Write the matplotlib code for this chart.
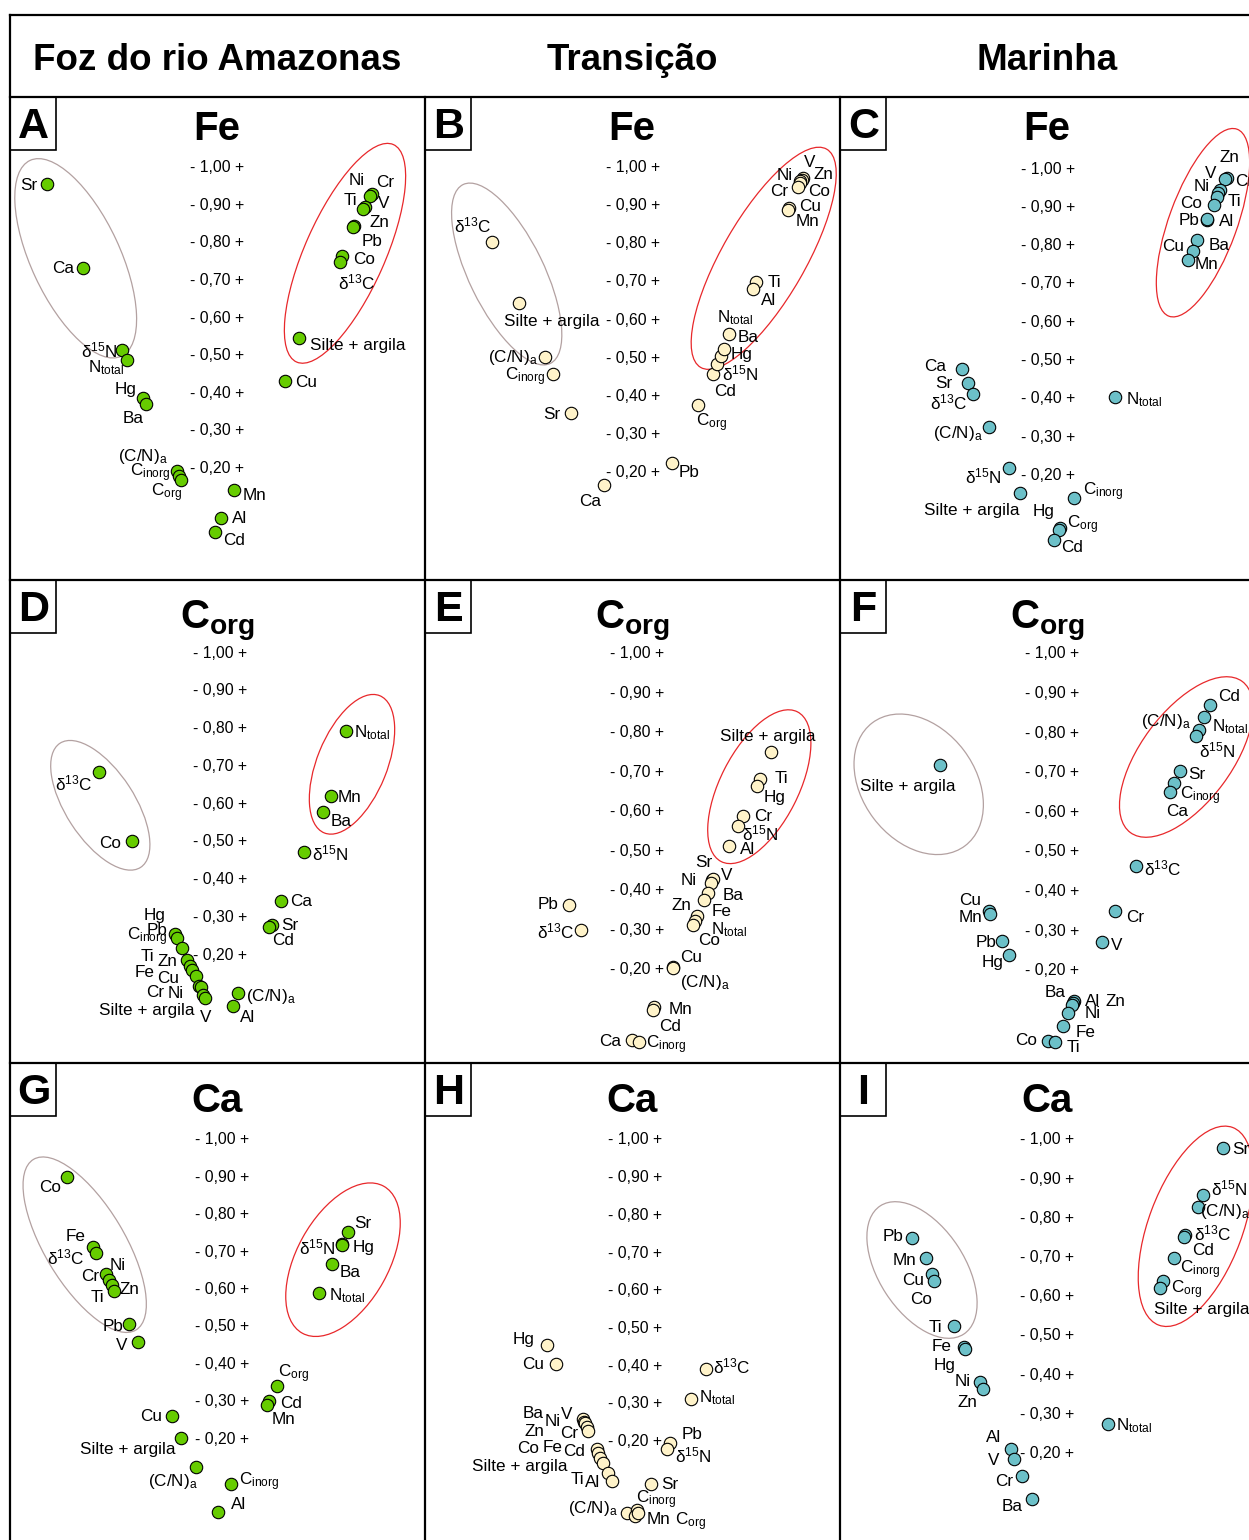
import matplotlib
matplotlib.use("Agg")
import matplotlib.pyplot as plt
from matplotlib.patches import Ellipse, Rectangle

plt.rcParams["font.family"] = ["Liberation Sans", "DejaVu Sans"]
plt.rcParams["mathtext.fontset"] = "custom"
plt.rcParams["mathtext.rm"] = "Liberation Sans"
plt.rcParams["mathtext.it"] = "Liberation Sans:italic"
plt.rcParams["mathtext.bf"] = "Liberation Sans:bold"

FIG_W, FIG_H = 1249, 1540

COLUMN_TITLES = ["Foz do rio Amazonas", "Transição", "Marinha"]
PANEL_LETTERS = ["A", "B", "C", "D", "E", "F", "G", "H", "I"]
PANEL_VARS = ["Fe", "Corg", "Ca"]
TICKS = [1.00, 0.90, 0.80, 0.70, 0.60, 0.50, 0.40, 0.30, 0.20]

# ---- data: variable names, horizontal position, correlation ----
A_NAMES = ["Sr", "Ca", "d15N", "Ntotal", "Hg", "Ba", "CN", "Cinorg", "Corg", "Mn", "Al", "Cd",
           "Cu", "Silte", "Cr", "Ni", "V", "Ti", "Zn", "Pb", "Co", "d13C"]
A_X = [36.7, 72.7, 111.7, 117.3, 133.3, 136, 167.3, 169.3, 170.7, 224.3, 211.3, 205,
       275, 288.7, 361.7, 360.3, 354.7, 353.3, 344, 343.3, 332.3, 330]
A_R = [0.956, 0.734, 0.515, 0.488, 0.388, 0.370, 0.193, 0.180, 0.169, 0.142, 0.067, 0.031,
       0.432, 0.546, 0.929, 0.925, 0.895, 0.890, 0.845, 0.841, 0.765, 0.750]

B_NAMES = ["d13C", "Silte", "CN", "Cinorg", "Sr", "Ca", "Pb", "Corg", "Cd", "d15N", "Hg", "Ba",
           "Ntotal", "Ti", "Al", "Cu", "Mn", "V", "Zn", "Ni", "Co", "Cr"]
B_X = [66.7, 94.3, 120, 127.7, 145.7, 178.7, 247, 273.3, 288.3, 292.3, 296, 299,
       304, 330.7, 327.7, 364, 362.7, 378.3, 376.7, 375, 375, 373.3]
B_R = [0.804, 0.646, 0.502, 0.458, 0.355, 0.168, 0.225, 0.377, 0.458, 0.485, 0.505, 0.523,
       0.564, 0.701, 0.681, 0.895, 0.889, 0.974, 0.968, 0.965, 0.959, 0.949]

C_NAMES = ["Ca", "Sr", "d13C", "CN", "d15N", "Silte", "Cinorg", "Hg", "Corg", "Cd", "Ntotal",
           "Zn", "Cr", "V", "Ni", "Ti", "Co", "Pb", "Al", "Ba", "Cu", "Mn"]
C_X = [121.7, 127.7, 133.3, 149, 169, 180, 234.3, 220, 219.3, 214.3, 275,
       386.7, 385.3, 380, 378.3, 376.7, 374, 366.7, 367.3, 357.3, 352.7, 348.3]
C_R = [0.478, 0.442, 0.413, 0.328, 0.219, 0.156, 0.141, 0.064, 0.058, 0.032, 0.406,
       0.977, 0.974, 0.945, 0.937, 0.928, 0.906, 0.867, 0.870, 0.814, 0.785, 0.763]

D_NAMES = ["d13C", "Co", "Ntotal", "Mn", "Ba", "d15N", "Ca", "Sr", "Cd", "CN", "Al", "Hg",
           "Pb", "Cinorg", "Ti", "Zn", "Fe", "Cu", "Cr", "Ni", "Silte", "V"]
D_X = [89, 121.7, 335.7, 320.7, 313.3, 294, 271, 261.7, 259, 227.7, 222.7, 164.7,
       166.7, 171.7, 177.3, 180, 181.7, 185.7, 189.3, 190.7, 193.3, 195.3]
D_R = [0.684, 0.502, 0.793, 0.621, 0.578, 0.473, 0.343, 0.281, 0.274, 0.100, 0.066, 0.256,
       0.245, 0.219, 0.188, 0.172, 0.162, 0.144, 0.120, 0.115, 0.096, 0.087]

E_NAMES = ["Pb", "d13C", "Silte", "Ti", "Hg", "Cr", "d15N", "Al", "Sr", "V", "Ni", "Ba",
           "Zn", "Fe", "Ntotal", "Co", "Cu", "CN", "Mn", "Cd", "Ca", "Cinorg"]
E_X = [144.3, 156, 345.7, 335, 331.7, 318.3, 312.7, 304, 287.3, 288.3, 286, 282.7,
       279.3, 272.3, 270, 267.7, 248.3, 247.7, 229.3, 228.3, 206.7, 214.3]
E_R = [0.365, 0.301, 0.752, 0.682, 0.665, 0.590, 0.563, 0.514, 0.428, 0.430, 0.420, 0.394,
       0.377, 0.335, 0.324, 0.312, 0.206, 0.204, 0.105, 0.097, 0.023, 0.017]

F_NAMES = ["Silte", "Cd", "Ntotal", "CN", "d15N", "Sr", "Cinorg", "Ca", "d13C", "Cr", "V",
           "Cu", "Mn", "Pb", "Hg", "Ba", "Al", "Zn", "Ni", "Fe", "Co", "Ti"]
F_X = [100, 370, 364, 359.3, 356, 340, 334.3, 330, 296, 275, 261.7,
       149.3, 150, 162.3, 169, 234.3, 233.3, 232.3, 228.3, 222.7, 208.3, 215]
F_R = [0.719, 0.870, 0.840, 0.809, 0.792, 0.704, 0.674, 0.651, 0.464, 0.350, 0.272,
       0.350, 0.343, 0.276, 0.240, 0.124, 0.118, 0.114, 0.093, 0.059, 0.021, 0.019]

G_NAMES = ["Co", "Fe", "d13C", "Cr", "Ni", "Zn", "Ti", "Pb", "V", "Sr", "Hg", "d15N",
           "Ba", "Ntotal", "Corg", "Cd", "Mn", "Cu", "Silte", "CN", "Cinorg", "Al"]
G_X = [56.7, 82.7, 85.7, 95.7, 99, 101.7, 104, 119.3, 127.7, 337.7, 332.3, 331.7,
       321.7, 309, 266.7, 259, 256.7, 161.7, 171, 185.7, 220.7, 207.7]
G_R = [0.902, 0.713, 0.697, 0.641, 0.625, 0.612, 0.597, 0.507, 0.459, 0.753, 0.721, 0.719,
       0.668, 0.592, 0.343, 0.303, 0.291, 0.262, 0.204, 0.126, 0.081, 0.006]

H_NAMES = ["Hg", "Cu", "d13C", "Ntotal", "Pb", "d15N", "Sr", "V", "Ni", "Ba", "Zn", "Cr",
           "Cd", "Fe", "Co", "Silte", "Ti", "Al", "CN", "Cinorg", "Mn", "Corg"]
H_X = [122.3, 131, 281, 265.7, 245, 242.3, 225.7, 158.3, 159.3, 160.3, 161.7, 163.3,
       171.7, 173.3, 175, 177.7, 182.7, 187.3, 202.3, 212.3, 210, 213.3]
H_R = [0.456, 0.406, 0.394, 0.312, 0.196, 0.180, 0.088, 0.259, 0.253, 0.249, 0.240, 0.228,
       0.180, 0.170, 0.158, 0.143, 0.117, 0.095, 0.010, 0.019, 0.002, 0.012]

I_NAMES = ["Pb", "Mn", "Cu", "Co", "Ti", "Fe", "Hg", "Ni", "Zn", "Al", "V", "Cr", "Ba",
           "Ntotal", "Sr", "d15N", "CN", "d13C", "Cd", "Cinorg", "Corg", "Silte"]
I_X = [72.3, 85.7, 91.7, 94.3, 114.3, 124.3, 125, 140, 142.7, 170.7, 174.3, 181.7, 192.3,
       268.3, 383.3, 362.7, 357.7, 345, 344, 334, 323.3, 320]
I_R = [0.751, 0.698, 0.657, 0.641, 0.525, 0.471, 0.466, 0.383, 0.364, 0.210, 0.185, 0.143, 0.083,
       0.274, 0.979, 0.860, 0.830, 0.757, 0.753, 0.700, 0.641, 0.621]

# ---- layout: label offsets (px, right / down) per point ----
A_OFF = [(-18, 1), (-20, 1), (-23, 0), (-21, 8), (-18, -8), (-13, 14), (-34, -14), (-29, -3), (-14, 13),
         (20, 5), (18, 0), (19, 9), (21, 1), (59, 7), (13, -12), (-14, -15), (19, -4), (-13, -9),
         (25, -3), (19, 14), (22, 3), (17, 21)]
B_OFF = [(-19, -17), (32, 19), (-32, 0), (-27, 3), (-19, 1), (-14, 17), (17, 10), (13, 18), (12, 17),
         (23, 10), (21, -2), (24, -12), (6, -16), (19, 1), (16, 11), (21, -1), (20, 12), (6, -15),
         (22, -5), (-15, -6), (19, 8), (-19, 4)]
C_OFF = [(-27, -3), (-24, 1), (-25, 8), (-31, 7), (-26, 8), (-48, 18), (29, -7), (-16, -16), (23, -5),
         (18, 7), (29, 3), (3, -20), (19, 3), (-9, -17), (-17, -7), (18, 5), (-23, -2), (-18, 1),
         (19, 3), (22, 5), (-20, -5), (18, 5)]
D_OFF = [(-25, 11), (-22, 2), (26, 1), (19, 1), (18, 9), (26, 1), (20, 0), (18, 1), (14, 13), (33, 3),
         (15, 12), (-20, -19), (-20, -8), (-34, -11), (-40, -3), (-23, -4), (-47, 3), (-28, 2),
         (-44, 7), (-25, 6), (-57, 16), (0, 19)]
E_OFF = [(-21, 0), (-25, 2), (-3, -15), (21, -1), (18, 11), (20, 1), (22, 7), (19, 4), (-9, -17),
         (13, -3), (-22, -2), (25, 2), (-23, 6), (24, -5), (34, 9), (16, 15), (18, -10), (32, 14),
         (26, 2), (17, 16), (-22, 2), (27, 3)]
F_OFF = [(-32, 21), (19, -9), (26, 9), (-33, -8), (21, 14), (17, 3), (26, 13), (7, 19), (27, 2),
         (20, 6), (15, 3), (-19, -11), (-19, 3), (-16, 2), (-16, 8), (-19, -8), (19, -2), (43, -3),
         (24, 1), (23, 6), (-22, -1), (18, 5)]
G_OFF = [(-17, 11), (-17, -11), (-30, 4), (-16, 2), (9, -15), (18, 4), (-17, 7), (-16, 2), (-16, 3),
         (15, -9), (21, 3), (-25, 2), (18, 8), (28, 3), (17, -12), (22, 3), (17, 14), (-21, 1),
         (-53, 12), (-23, 15), (29, -2), (21, -7)]
H_OFF = [(-24, -6), (-23, 1), (26, -2), (26, -2), (22, -9), (26, 6), (19, 1), (-17, -5), (-32, 0),
         (-52, -10), (-52, 5), (-19, 2), (-23, 2), (-46, -5), (-72, -9), (-83, 3), (-30, 7),
         (-20, 1), (-34, -5), (19, -10), (23, 3), (52, 9)]
I_OFF = [(-19, -1), (-21, 2), (-19, 6), (-13, 19), (-19, 1), (-23, -1), (-20, 16), (-17, 0),
         (-15, 13), (-17, -12), (-21, 1), (-18, 6), (-20, 7), (26, 1), (17, 1), (26, -6), (27, 5),
         (28, -2), (19, 14), (26, 12), (23, 9), (42, 21)]

PANELS = [
    (A_NAMES, A_X, A_R, A_OFF), (B_NAMES, B_X, B_R, B_OFF), (C_NAMES, C_X, C_R, C_OFF),
    (D_NAMES, D_X, D_R, D_OFF), (E_NAMES, E_X, E_R, E_OFF), (F_NAMES, F_X, F_R, F_OFF),
    (G_NAMES, G_X, G_R, G_OFF), (H_NAMES, H_X, H_R, H_OFF), (I_NAMES, I_X, I_R, I_OFF),
]

DISPLAY = {
    "d13C": r"δ$^{13}$C",
    "d15N": r"δ$^{15}$N",
    "Ntotal": r"N$_{\mathrm{total}}$",
    "Cinorg": r"C$_{\mathrm{inorg}}$",
    "Corg": r"C$_{\mathrm{org}}$",
    "CN": r"(C/N)$_{\mathrm{a}}$",
    "Silte": "Silte + argila",
}

COL_X = [10, 425, 840]
ROW_Y = [95, 578, 1060]
COL_LINES = [10.5, 425.5, 840.5]
ROW_LINES = [96.5, 579.5, 1062.5]
TITLE_BASE = [43.5, 48.5, 49.5]
R1_PX = [167.7, 167.7, 169.0, 653.0, 654.0, 654.0, 1140.0, 1140.0, 1140.0]
PX_PER_UNIT = [375.8, 380.8, 383.3, 377.9, 394.6, 395.8, 373.8, 377.1, 391.7]
TICK_X = [207, 208, 208, 210, 212, 212, 212, 210, 207]
MARKER_COLORS = ["#66CC00", "#FFF3C9", "#6CC0C8"]
GREY = "#B3A1A1"
RED = "#E8282B"

# ellipses: cx, cy, width, height, angle (px, y downwards)
ELLIPSES = [
    (75.7, 258.3, 216, 89, 65, GREY), (345, 253.3, 238, 80, -66, RED),
    (506.7, 274, 199, 75, 64, GREY), (763.7, 258.3, 252, 83, -60, RED),
    (1203, 222.7, 199, 68, -70, RED),
    (100.3, 805.3, 148, 69, 57, GREY), (352, 764.3, 148, 70, -68, RED),
    (759.3, 786.7, 168, 78, -63, RED),
    (918.7, 784.3, 154, 113, 53, GREY), (1186.3, 757, 188, 91, -53.5, RED),
    (84.7, 1244.7, 199, 80, 59, GREY), (343, 1259.7, 168, 92, -61, RED),
    (922, 1270, 153, 86, 57, GREY), (1195.7, 1226.3, 211, 94, -69.5, RED),
]


def Main():
    fig = plt.figure(figsize=(FIG_W / 100, FIG_H / 100), dpi=100)
    ov = fig.add_axes([0, 0, 1, 1], zorder=1)
    ov.set_xlim(0, FIG_W)
    ov.set_ylim(FIG_H, 0)
    ov.axis("off")

    DrawFrame(ov)
    for e in ELLIPSES:
        cx, cy, w, h, ang, col = e
        ov.add_patch(Ellipse((cx, cy), w, h, angle=ang, fill=False, edgecolor=col, linewidth=0.9))

    for i, (names, xs, rs, offs) in enumerate(PANELS):
        DrawPanel(fig, i, names, xs, rs, offs)

    fig.savefig("out.png", dpi=100)
    plt.close(fig)


def DrawFrame(ov):
    lw = 1.6
    ov.plot([10, FIG_W], [14.5, 14.5], color="black", lw=lw)
    for y in ROW_LINES:
        ov.plot([10, FIG_W], [y, y], color="black", lw=lw)
    ov.plot([10.5, 10.5], [14.5, FIG_H], color="black", lw=lw)
    for x in COL_LINES[1:]:
        ov.plot([x, x], [ROW_LINES[0], FIG_H], color="black", lw=lw)

    for col, title in enumerate(COLUMN_TITLES):
        ov.text(COL_X[col] + 207.5, 70, title, ha="center", va="baseline",
                fontsize=26.5, fontweight="bold")

    for i, letter in enumerate(PANEL_LETTERS):
        row, col = divmod(i, 3)
        x, y = COL_LINES[col], ROW_LINES[row]
        ov.add_patch(Rectangle((x, y), 46, 53, fill=False, edgecolor="black", linewidth=1.2))
        ov.text(x + 23, y + 41.5, letter, ha="center", va="baseline", fontsize=31, fontweight="bold")
        var = PANEL_VARS[row]
        label = r"$\mathbf{C}_{\mathbf{org}}$" if var == "Corg" else var
        ov.text(COL_X[col] + 207, y + TITLE_BASE[row], label, ha="center", va="baseline",
                fontsize=29, fontweight="bold")


def DrawPanel(fig, i, names, xs, rs, offs):
    row, col = divmod(i, 3)
    x0, y0 = COL_X[col], ROW_Y[row]
    w, h = 415, 482
    ax = fig.add_axes([x0 / FIG_W, 1 - (y0 + h) / FIG_H, w / FIG_W, h / FIG_H], zorder=2)
    ax.patch.set_alpha(0)
    ax.axis("off")
    y1, s = R1_PX[i], PX_PER_UNIT[i]
    ax.set_xlim(0, w)
    ax.set_ylim(1 - (y0 + h - y1) / s, 1 + (y1 - y0) / s)

    for v in TICKS:
        ax.text(TICK_X[i], v, f"- {v:.2f} +".replace(".", ","), ha="center", va="center",
                fontsize=11.3)

    ax.scatter(xs, rs, s=80, c=MARKER_COLORS[col], edgecolors="black", linewidths=0.8,
               zorder=3, clip_on=False)
    for name, x, r, (dx, dy) in zip(names, xs, rs, offs):
        ax.annotate(DISPLAY.get(name, name), (x, r), xytext=(dx * 0.72, -dy * 0.72),
                    textcoords="offset points", ha="center", va="center", fontsize=12.3,
                    annotation_clip=False, zorder=4)


if __name__ == "__main__":
    Main()
